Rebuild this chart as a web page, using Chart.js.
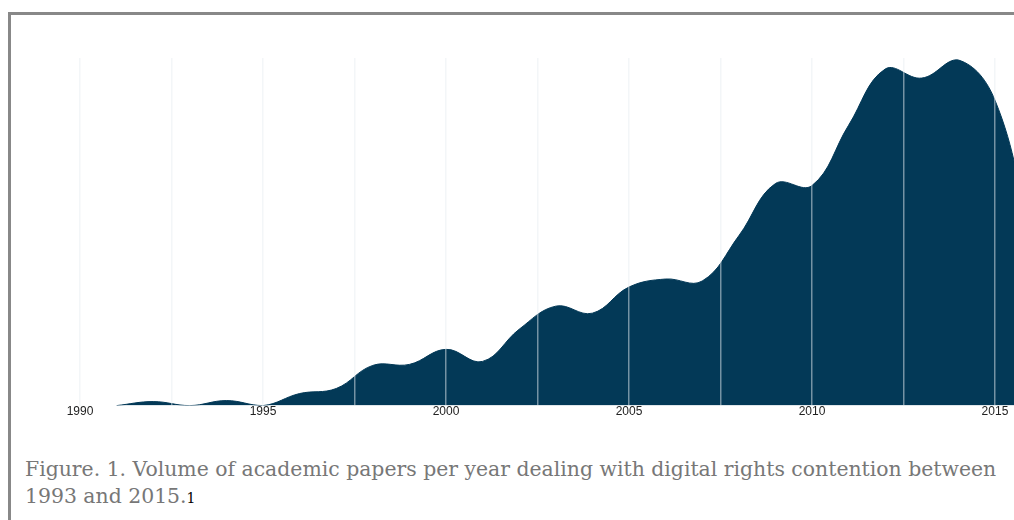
<!DOCTYPE html>
<html>
<head>
<meta charset="utf-8">
<script src="https://cdn.jsdelivr.net/npm/chart.js@4"></script>
<style>
    html, body { margin: 0; padding: 0; background: #fff; overflow: hidden; }
    #frame {
        position: absolute; left: 8px; top: 12px; width: 1100px; height: 600px;
        border-left: 3px solid #888; border-top: 3px solid #888;
    }
    #chartBox { position: absolute; left: 0; top: 0; width: 1014px; height: 430px; }
    #caption {
        position: absolute; left: 25px; top: 456px; width: 990px;
        font-family: "DejaVu Serif", serif; font-size: 20.4px; line-height: 27px;
        color: #777;
    }
    #caption sup { font-size: 14px; color: #000; vertical-align: baseline; }
</style>
</head>
<body>
<div id="frame"></div>
<div id="chartBox"><canvas id="PapersChart"></canvas></div>
<div id="caption">Figure. 1. Volume of academic papers per year dealing with digital rights contention between<br>1993 and 2015.<sup>1</sup></div>

<script>
// -------------------------    Data    -------------------------

// years of each point
var years = [1991, 1992, 1993, 1994, 1995, 1996, 1997, 1998, 1999, 2000, 2001, 2002, 2003,
    2004, 2005, 2006, 2007, 2008, 2009, 2010, 2011, 2012, 2013, 2014, 2015, 2016];

// papers per year (no axis given)
var papers = [0, 4, 0, 5, 0, 12, 17, 40, 41, 56, 44, 76, 99,
    92, 118, 126, 124, 169, 221, 219, 279, 335, 326, 344, 304, 165];

// labelled ticks on x axis
var tickLabels = [1990, 1995, 2000, 2005, 2010, 2015];


// -------------------------    Chart Setup    -------------------------

var points = [];
for (let i = 0; i < years.length; i++) {
    points.push({ x: years[i], y: papers[i] });
}

var ctx = document.getElementById('PapersChart').getContext('2d');
var PapersChart = new Chart(ctx, {
    type: 'line',
    data: {
        datasets: [{
            label: 'papers',
            data: points,
            backgroundColor: '#033957',
            borderColor: '#033957',
            borderWidth: 1,
            fill: 'origin',
            tension: 0.4,
            pointRadius: 0,
        }]
    },
    options: {
        responsive: true,
        maintainAspectRatio: false,
        animation: false,
        layout: {
            padding: { left: 80, top: 58, right: 0, bottom: 12 }
        },
        plugins: {
            legend: { display: false },
            tooltip: { enabled: false },
        },
        scales: {
            x: {
                type: 'linear',
                min: 1990,
                max: 2015.52,
                grid: {
                    color: 'rgba(232, 238, 242, 0.5)',
                    lineWidth: 1.5,
                    drawTicks: false,
                    z: 1,
                },
                border: { display: false },
                ticks: {
                    stepSize: 2.5,
                    includeBounds: false,
                    autoSkip: false,
                    maxRotation: 0,
                    padding: -1,
                    color: '#222',
                    font: { family: 'Liberation Sans', size: 12 },
                    callback: function (value) {
                        return tickLabels.indexOf(value) >= 0 ? String(value) : '';
                    }
                }
            },
            y: {
                display: false,
                min: 0,
                max: 346,
            }
        }
    }
});
</script>
</body>
</html>
